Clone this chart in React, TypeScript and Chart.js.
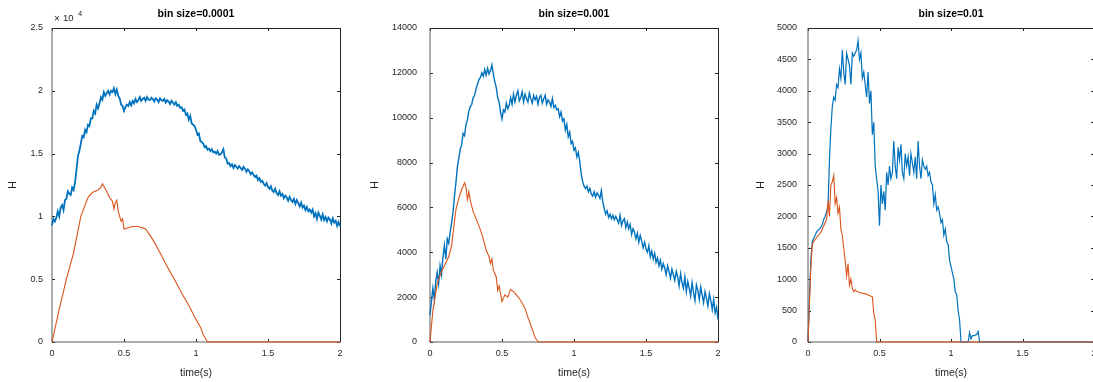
import React, { useEffect, useRef } from 'react';
import { Chart, registerables } from 'chart.js';

Chart.register(...registerables);

const BLUE = '#0072BD';
const ORANGE = '#D95319';
const AXIS = '#262626';
const FONT = '"Liberation Sans", Arial, Helvetica, sans-serif';

const STEP = 0.01;
const xTickValues = [0, 0.5, 1, 1.5, 2];

// ---- panel 1: bin size = 0.0001 ----
const blue1 = [
  9300, 9800, 9600, 9900, 10400, 10000, 10700, 10900, 10500, 11300,
  11400, 12000, 11800, 11700, 12300, 12100, 12700, 13700, 14800, 15200,
  15800, 16400, 16300, 16900, 16700, 17300, 17200, 17800, 17800, 18400,
  18200, 18900, 18600, 19000, 19500, 19300, 19900, 19600, 19800, 20000,
  19700, 20000, 19900, 20200, 19750, 20100, 19600, 19400, 18900, 18800,
  18400, 18700, 18900, 18800, 19100, 18850, 19200, 19000, 19350, 19100,
  19250, 19500, 19200, 19350, 19450, 19200, 19500, 19300, 19250, 19450,
  19350, 19150, 19400, 19300, 19100, 19400, 19250, 19200, 19350, 19050,
  19250, 19150, 18950, 19200, 19050, 18900, 19100, 18800, 18900, 18650,
  18700, 18400, 18500, 18100, 18200, 17700, 18000, 17400, 17300, 17200,
  16900, 16500, 16600, 16000, 15900, 15800, 15500, 15600, 15300, 15400,
  15200, 15350, 15100, 15150, 15000, 15200, 14900, 14950, 15100, 15350,
  14700, 14600, 14200, 14250, 14000, 14150, 13850, 14100, 13950, 13800,
  14000, 13850, 13700, 13950, 13800, 13550, 13750, 13600, 13350, 13500,
  13300, 13150, 13250, 12900, 13050, 12750, 12850, 12600, 12450, 12650,
  12350, 12200, 12400, 12050, 11950, 12200, 11850, 11700, 12000, 11650,
  11800, 11450, 11650, 11500, 11250, 11550, 11300, 11150, 11400, 11000,
  11300, 11050, 10800, 11100, 10700, 10850, 10500, 10750, 10400, 10550,
  10300, 10550, 10000, 10250, 9800, 10300, 10050, 9750, 10150, 9700,
  9950, 9600, 9900, 9750, 9450, 9850, 9500, 9650, 9250, 9550,
  9200,
];
const orange1T = [0, 0.05, 0.1, 0.15, 0.2, 0.25, 0.28, 0.3, 0.32, 0.34, 0.35, 0.37, 0.4, 0.42, 0.43, 0.44, 0.45, 0.46, 0.47, 0.48, 0.49, 0.5, 0.53, 0.56, 0.6, 0.65, 0.7, 0.75, 0.8, 0.85, 0.9, 0.95, 1.0, 1.03, 1.05, 1.08, 2.0];
const orange1H = [0, 2600, 5000, 7100, 10000, 11500, 11900, 12000, 12100, 12300, 12600, 12200, 11500, 11200, 10600, 11100, 11300, 10400, 10000, 9600, 9800, 9000, 9100, 9200, 9200, 9000, 8150, 7100, 6000, 5000, 3900, 2900, 1800, 1200, 600, 0, 0];
const yTicks1 = [0, 5000, 10000, 15000, 20000, 25000];

// ---- panel 2: bin size = 0.001 ----
const blue2 = [
  1200, 1800, 2400, 1900, 2700, 3100, 2600, 3400, 3000, 3800,
  4300, 3700, 4600, 4400, 4900, 5300, 5800, 6500, 7100, 7800,
  8200, 8600, 8800, 9300, 9200, 9700, 9900, 10300, 10500, 10600,
  10900, 11000, 11300, 11500, 11700, 11800, 12000, 11850, 12150, 11900,
  12200, 11950, 12100, 12350, 11950, 11600, 11350, 10900, 10700, 10250,
  9950, 10350, 10250, 10650, 10400, 10550, 10900, 10600, 11050, 10700,
  11000, 11200, 10750, 10900, 11150, 10700, 11050, 10850, 10700, 11100,
  10850, 10650, 11000, 10800, 10950, 10600, 10900, 11000, 10650, 10850,
  11000, 10600, 10800, 10700, 10500, 10850, 10450, 10550, 10350, 10400,
  10050, 10250, 9850, 9950, 9450, 9700, 9150, 9350, 8850, 8950,
  8550, 8650, 8250, 8450, 8050, 7500, 7150, 6950, 6850, 6950,
  6700, 6850, 6600, 6500, 6700, 6450, 6650, 6550, 6400, 6750,
  6250, 5950, 5700, 5850, 5550, 5700, 5500, 5650, 5450, 5600,
  5450, 5300, 5650, 5200, 5400, 5500, 5100, 5350, 5050, 5250,
  4800, 5050, 4900, 4600, 4850, 4450, 4750, 4500, 4200, 4450,
  4150, 4000, 4300, 3800, 4050, 3700, 3950, 3550, 3750, 3400,
  3650, 3250, 3500, 3300, 3000, 3400, 3150, 2850, 3250, 3000,
  2750, 3150, 2900, 2500, 3050, 2650, 2400, 2900, 2250, 2700,
  2400, 2050, 2650, 2200, 1850, 2550, 2300, 1900, 2450, 2100,
  1750, 2250, 1950, 1600, 2150, 1850, 1450, 1900, 1300, 1550,
  1000,
];
const orange2T = [0, 0.02, 0.05, 0.08, 0.1, 0.13, 0.15, 0.18, 0.2, 0.22, 0.24, 0.25, 0.26, 0.27, 0.28, 0.3, 0.32, 0.35, 0.37, 0.39, 0.41, 0.42, 0.43, 0.44, 0.46, 0.47, 0.48, 0.5, 0.52, 0.54, 0.56, 0.58, 0.6, 0.63, 0.66, 0.68, 0.7, 0.73, 0.75, 2.0];
const orange2H = [0, 1400, 2600, 3150, 3400, 3800, 4300, 5900, 6400, 6800, 7100, 6900, 6350, 6700, 6300, 5800, 5500, 5000, 4600, 4100, 3800, 3500, 3700, 3200, 2900, 2300, 2500, 1800, 2100, 2000, 2350, 2250, 2100, 1850, 1500, 1100, 750, 200, 0, 0];
const yTicks2 = [0, 2000, 4000, 6000, 8000, 10000, 12000, 14000];

// ---- panel 3: bin size = 0.01 ----
const blue3 = [
  0, 700, 1300, 1600, 1650, 1700, 1750, 1780, 1800, 1830,
  1870, 1950, 2000, 2080, 2150, 2900, 3400, 3750, 3900, 3850,
  4100, 4050, 4350, 4200, 4650, 4300, 4100, 4600, 4500, 4400,
  4100, 4600, 4550, 4600, 4650, 4800, 4500, 4600, 4200, 4300,
  4100, 3900, 4300, 3800, 4000, 3300, 3500, 2800, 2600, 2400,
  1850, 2500, 2200, 2400, 2100, 2700, 2500, 2800, 2600, 2700,
  3200, 2800, 2600, 3100, 2900, 3150, 2700, 2600, 3000, 2800,
  2950, 2650, 3000, 2850, 2700, 2950, 2600, 3200, 2800, 2600,
  2900, 2800, 2750, 2800, 2650, 2700, 2550, 2500, 2200, 2350,
  2100, 2150, 2050, 1900, 1950, 1700, 1800, 1600, 1550, 1300,
  1200, 1100, 1000, 800, 750, 500, 350, 0, 0, 0,
  0, 0, 0, 150, 50, 100, 100, 110, 120, 170,
  0,
];
const blue3TailT = [2.0];
const blue3TailH = [0];
const orange3 = [
  0, 600, 1200, 1550, 1600, 1630, 1660, 1690, 1720, 1750,
  1800, 1850, 1900, 1950, 2250, 2000, 2500, 2550, 2650, 2200,
  2300, 2050, 2150, 1800, 1700, 1500, 1300, 1050, 1250, 900,
  1000, 850, 800, 830, 810, 800, 790, 780, 780, 770,
  770, 760, 750, 740, 730, 720, 450, 350, 0,
];
const orange3TailT = [2.0];
const orange3TailH = [0];
const yTicks3 = [0, 500, 1000, 1500, 2000, 2500, 3000, 3500, 4000, 4500, 5000];

type Pt = { x: number; y: number };
const uniform = (vals: number[]): Pt[] => vals.map((v, i) => ({ x: +(i * STEP).toFixed(2), y: v }));
const pairs = (ts: number[], hs: number[]): Pt[] => ts.map((t, i) => ({ x: t, y: hs[i] }));

type Panel = {
  title: string;
  blue: Pt[];
  orange: Pt[];
  blueWidth: number;
  yTicks: number[];
  yFormat: (v: number) => string;
  canvasLeft: number;
  canvasWidth: number;
  yWidth: number;
  padRight: number;
  labelPad: number;
  yLabelOffset: number;
  exponent?: string;
};

const panels: Panel[] = [
  {
    title: 'bin size=0.0001',
    blue: uniform(blue1),
    orange: pairs(orange1T, orange1H),
    blueWidth: 1.8,
    yTicks: yTicks1,
    yFormat: (v) => String(v / 10000),
    canvasLeft: 0,
    canvasWidth: 365,
    yWidth: 52,
    padRight: 25,
    labelPad: 9,
    yLabelOffset: 39,
    exponent: '4',
  },
  {
    title: 'bin size=0.001',
    blue: uniform(blue2),
    orange: pairs(orange2T, orange2H),
    blueWidth: 1.4,
    yTicks: yTicks2,
    yFormat: (v) => String(v),
    canvasLeft: 365,
    canvasWidth: 380,
    yWidth: 65,
    padRight: 27,
    labelPad: 13,
    yLabelOffset: 55,
  },
  {
    title: 'bin size=0.01',
    blue: uniform(blue3).concat(pairs(blue3TailT, blue3TailH)),
    orange: uniform(orange3).concat(pairs(orange3TailT, orange3TailH)),
    blueWidth: 1.2,
    yTicks: yTicks3,
    yFormat: (v) => String(v),
    canvasLeft: 745,
    canvasWidth: 380,
    yWidth: 63,
    padRight: 31,
    labelPad: 11,
    yLabelOffset: 47,
  },
];

const matlabPlugin = {
  id: 'matlab',
  beforeDatasetsDraw(chart: any) {
    const { ctx, chartArea } = chart;
    const { left, right, top, bottom } = chartArea;
    const xs = chart.scales.x;
    const ys = chart.scales.y;
    ctx.save();
    ctx.strokeStyle = AXIS;
    ctx.lineWidth = 1;
    ctx.beginPath();
    xs.ticks.forEach((t: any) => {
      const px = Math.round(xs.getPixelForValue(t.value)) + 0.5;
      ctx.moveTo(px, bottom);
      ctx.lineTo(px, bottom - 3);
      ctx.moveTo(px, top);
      ctx.lineTo(px, top + 3);
    });
    ys.ticks.forEach((t: any) => {
      const py = Math.round(ys.getPixelForValue(t.value)) + 0.5;
      ctx.moveTo(left, py);
      ctx.lineTo(left + 3, py);
      ctx.moveTo(right, py);
      ctx.lineTo(right - 3, py);
    });
    ctx.stroke();
    // frame: top/right crisp, left/bottom soft (as in the reference)
    ctx.beginPath();
    ctx.moveTo(left, top + 0.5);
    ctx.lineTo(right + 0.5, top + 0.5);
    ctx.lineTo(right + 0.5, bottom);
    ctx.stroke();
    ctx.beginPath();
    ctx.strokeStyle = '#5a5a5a';
    ctx.moveTo(left, top);
    ctx.lineTo(left, bottom);
    ctx.lineTo(right + 1, bottom);
    ctx.stroke();
    ctx.restore();
  },
  afterDraw(chart: any, _args: any, opts: any) {
    const { ctx, chartArea } = chart;
    const { left, right, top, bottom } = chartArea;
    const cx = (left + right) / 2;
    ctx.save();
    ctx.fillStyle = '#000';
    ctx.textAlign = 'center';
    ctx.textBaseline = 'middle';
    ctx.font = `bold 10.5px ${FONT}`;
    ctx.fillText(opts.title, cx, 14);
    ctx.fillStyle = AXIS;
    ctx.font = `10.5px ${FONT}`;
    ctx.fillText('time(s)', cx, 373);
    ctx.save();
    ctx.translate(left - opts.yLabelOffset, (top + bottom) / 2);
    ctx.rotate(-Math.PI / 2);
    ctx.fillText('H', 0, 0);
    ctx.restore();
    if (opts.exponent) {
      ctx.textAlign = 'left';
      ctx.textBaseline = 'alphabetic';
      ctx.font = `10px ${FONT}`;
      ctx.fillText('\u00d7', left + 2, 22);
      ctx.font = `9.5px ${FONT}`;
      ctx.fillText('10', left + 11, 21);
      ctx.font = `7.5px ${FONT}`;
      ctx.fillText(opts.exponent, left + 26, 16);
    }
    ctx.restore();
  },
};

function PanelChart({ panel }: { panel: Panel }) {
  const ref = useRef<HTMLCanvasElement | null>(null);
  useEffect(() => {
    if (!ref.current) return;
    const yMax = panel.yTicks[panel.yTicks.length - 1];
    const chart = new Chart(ref.current, {
      type: 'line',
      data: {
        datasets: [
          {
            data: panel.orange,
            borderColor: ORANGE,
            borderWidth: 1.1,
            pointRadius: 0,
            tension: 0,
            fill: false,
            clip: 3,
          } as any,
          {
            data: panel.blue,
            borderColor: BLUE,
            borderWidth: panel.blueWidth,
            pointRadius: 0,
            tension: 0,
            fill: false,
            clip: 3,
          } as any,
        ],
      },
      options: {
        animation: false,
        responsive: false,
        events: [],
        layout: { padding: { left: 0, right: panel.padRight, top: 28, bottom: 0 } },
        plugins: {
          legend: { display: false },
          tooltip: { enabled: false },
          title: { display: false },
          matlab: {
            title: panel.title,
            yLabelOffset: panel.yLabelOffset,
            exponent: panel.exponent,
          },
        } as any,
        scales: {
          x: {
            type: 'linear',
            min: 0,
            max: 2,
            afterFit: (s: any) => {
              s.height = 40;
            },
            afterBuildTicks: (s: any) => {
              s.ticks = xTickValues.map((v) => ({ value: v }));
            },
            grid: { display: false, drawTicks: false },
            border: { display: false },
            ticks: {
              padding: 6,
              maxRotation: 0,
              autoSkip: false,
              color: AXIS,
              font: { family: FONT, size: 9 },
              callback: (v: any) => String(v),
            },
          },
          y: {
            type: 'linear',
            min: 0,
            max: yMax,
            afterFit: (s: any) => {
              s.width = panel.yWidth;
            },
            afterBuildTicks: (s: any) => {
              s.ticks = panel.yTicks.map((v) => ({ value: v }));
            },
            grid: { display: false, drawTicks: false },
            border: { display: false },
            ticks: {
              padding: panel.labelPad,
              autoSkip: false,
              color: AXIS,
              font: { family: FONT, size: 9 },
              callback: (v: any) => panel.yFormat(Number(v)),
            },
          },
        },
      } as any,
      plugins: [matlabPlugin],
    });
    return () => chart.destroy();
  }, [panel]);
  return (
    <canvas
      ref={ref}
      width={panel.canvasWidth}
      height={382}
      style={{ position: 'absolute', left: panel.canvasLeft, top: 0, width: panel.canvasWidth, height: 382 }}
    />
  );
}

export default function App() {
  return (
    <div
      style={{
        position: 'absolute',
        left: 0,
        top: 0,
        width: 1093,
        height: 382,
        overflow: 'hidden',
        background: '#ffffff',
      }}
    >
      {panels.map((p, i) => (
        <PanelChart key={i} panel={p} />
      ))}
    </div>
  );
}
